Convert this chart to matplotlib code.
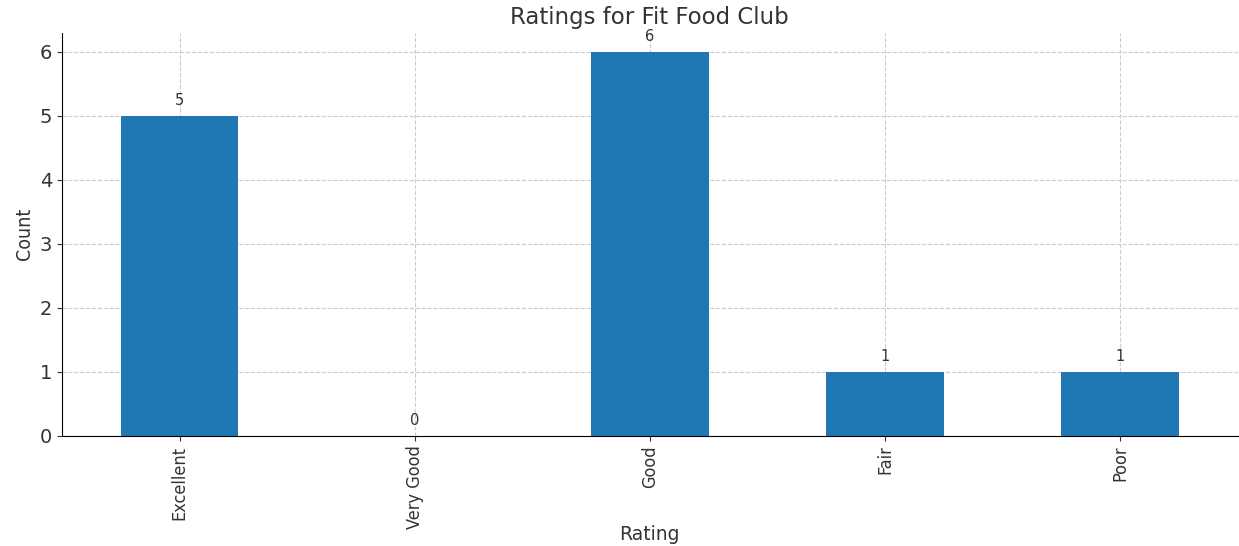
import matplotlib
matplotlib.use("Agg")
from matplotlib import pyplot as plt
from matplotlib import font_manager

ratings = ["Excellent", "Very Good", "Good", "Fair", "Poor"]
counts = [5, 0, 6, 1, 1]

plt.rcParams['font.family'] = ['DejaVu Sans']
plt.rcParams['text.color'] = '#333333'
plt.rcParams['axes.labelcolor'] = '#333333'
plt.rcParams['xtick.color'] = '#333333'
plt.rcParams['ytick.color'] = '#333333'

# narrow face for the rotated texts, if one is installed
names = {f.name for f in font_manager.fontManager.ttflist}
narrow = None
for cand in ["DejaVu Sans Condensed", "Liberation Sans Narrow"]:
    if cand in names:
        narrow = cand
        break
rot_font = dict(family=narrow or 'DejaVu Sans', stretch='condensed')

fig = plt.figure(figsize=(12.39, 5.46), dpi=100)
ax = fig.add_axes([0.05, 0.202, 0.949, 0.738])

x = range(len(ratings))
bars = ax.bar(x, counts, width=0.5, color='#1f77b4', zorder=2)
for b, c in zip(bars, counts):
    ax.text(b.get_x() + b.get_width() / 2, c + 0.12, str(c),
            ha='center', va='bottom', fontsize=10.5, color='#333333')

ax.set_xticks(list(x))
ax.set_xticklabels(ratings, rotation=90, fontsize=13, **rot_font)
ax.set_xlim(-0.5, len(ratings) - 0.5)
ax.set_ylim(0, 6.3)
ax.tick_params(axis='y', labelsize=14)
ax.grid(True, linestyle='--', color='#cccccc', linewidth=0.8, zorder=3)
ax.spines['top'].set_visible(False)
ax.spines['right'].set_visible(False)

ax.set_title("Ratings for Fit Food Club", fontsize=16.5, pad=6)
ax.set_xlabel("Rating", fontsize=13.5)
ax.xaxis.set_label_coords(0.5, -0.222)
ax.set_ylabel("Count", fontsize=14, labelpad=4, **rot_font)

fig.savefig("out.png", dpi=100)
